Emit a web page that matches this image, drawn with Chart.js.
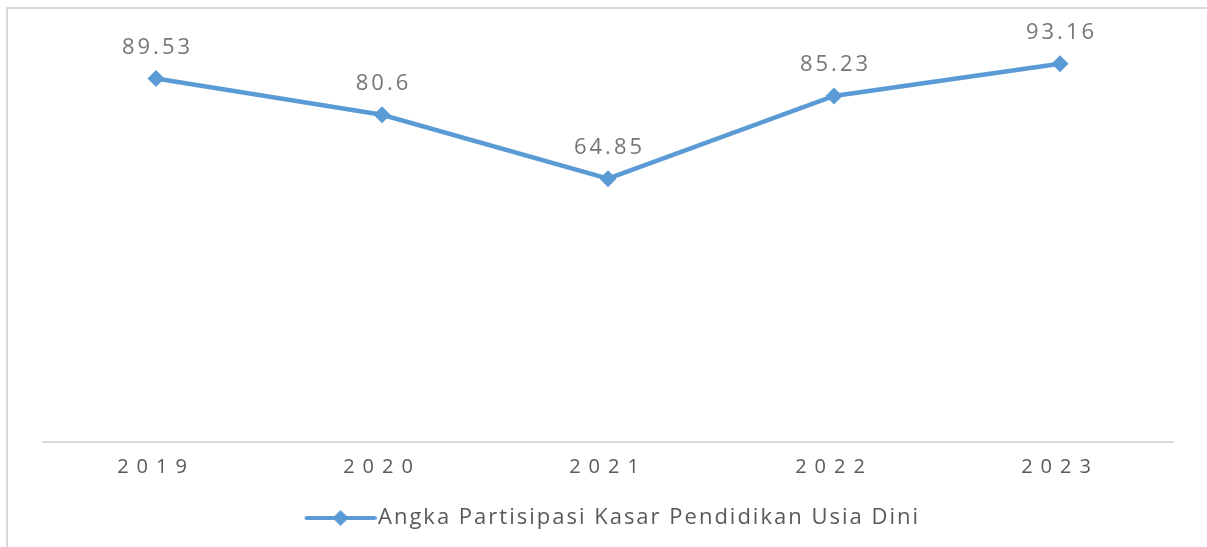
<!DOCTYPE html>
<html>
<head>
<meta charset="utf-8">
<script src="https://cdn.jsdelivr.net/npm/chart.js@4"></script>
<style>
  html, body { margin: 0; padding: 0; background: #fff; }
  #wrap { position: relative; width: 1207px; height: 547px; }
  #frame { position: absolute; left: 6px; top: 7px; width: 1300px; height: 600px;
           border-left: 2px solid #d9d9d9; border-top: 2px solid #d9d9d9; pointer-events: none; }
</style>
</head>
<body>
<div id="wrap">
  <canvas id="apkChart" width="1207" height="547"></canvas>
  <div id="frame"></div>
</div>
<script>
const years = ["2019", "2020", "2021", "2022", "2023"];
const apkValues = [89.53, 80.6, 64.85, 85.23, 93.16];
const seriesName = "Angka Partisipasi Kasar Pendidikan Usia Dini";
const blue = "#5b9bd5";

// legend marker: line with a diamond, placed right-heavy in the image
const marker = document.createElement("canvas");
marker.width = 90;
marker.height = 20;
(() => {
  const m = marker.getContext("2d");
  m.strokeStyle = blue;
  m.lineWidth = 4;
  m.lineCap = "round";
  m.beginPath();
  m.moveTo(20, 10);
  m.lineTo(88, 10);
  m.stroke();
  m.fillStyle = blue;
  m.beginPath();
  m.moveTo(54, 2);
  m.lineTo(62, 10);
  m.lineTo(54, 18);
  m.lineTo(46, 10);
  m.closePath();
  m.fill();
})();

const spacingPlugin = {
  id: "spacing",
  beforeLayout(chart) {
    chart.ctx.letterSpacing = "2px";
  },
  afterLayout(chart) {
    chart.ctx.letterSpacing = "0px";
  },
  beforeDraw(chart) {
    chart.ctx.letterSpacing = "2px";
  },
  beforeDatasetsDraw(chart) {
    chart.ctx.letterSpacing = "0px";
  },
  afterDatasetsDraw(chart) {
    const ctx = chart.ctx;
    const meta = chart.getDatasetMeta(0);
    ctx.save();
    ctx.letterSpacing = "3px";
    ctx.font = "22px 'Open Sans'";
    ctx.fillStyle = "#767676";
    ctx.textAlign = "center";
    ctx.textBaseline = "middle";
    meta.data.forEach((pt, i) => {
      ctx.fillText(String(apkValues[i]), pt.x + 1.5, pt.y - 31);
    });
    ctx.restore();
    ctx.letterSpacing = "8px";
  },
  afterDraw(chart) {
    chart.ctx.letterSpacing = "0px";
  },
};

new Chart(document.getElementById("apkChart").getContext("2d"), {
  type: "line",
  data: {
    labels: years,
    datasets: [
      {
        label: seriesName,
        data: apkValues,
        borderColor: blue,
        backgroundColor: blue,
        borderWidth: 4.5,
        pointStyle: "rectRot",
        pointRadius: 8.5,
        pointBackgroundColor: blue,
        pointBorderColor: blue,
        pointBorderWidth: 0,
        tension: 0,
        clip: false,
      },
    ],
  },
  options: {
    responsive: false,
    animation: false,
    layout: { padding: { left: 43, right: 34, top: 36, bottom: 8 } },
    scales: {
      x: {
        offset: true,
        grid: { display: false },
        border: { display: true, color: "#d9d9d9", width: 2 },
        afterFit(scale) {
          scale.height += 11;
        },
        ticks: {
          z: 1,
          padding: 5,
          color: "#595959",
          font: { family: "'Open Sans'", size: 20 },
        },
      },
      y: {
        display: false,
        min: 0,
        max: 100,
      },
    },
    plugins: {
      tooltip: { enabled: false },
      legend: {
        position: "bottom",
        labels: {
          usePointStyle: true,
          pointStyle: marker,
          pointStyleWidth: 71,
          color: "#595959",
          font: { family: "'Open Sans'", size: 22 },
          padding: 12,
        },
      },
    },
  },
  plugins: [spacingPlugin],
});
</script>
</body>
</html>
